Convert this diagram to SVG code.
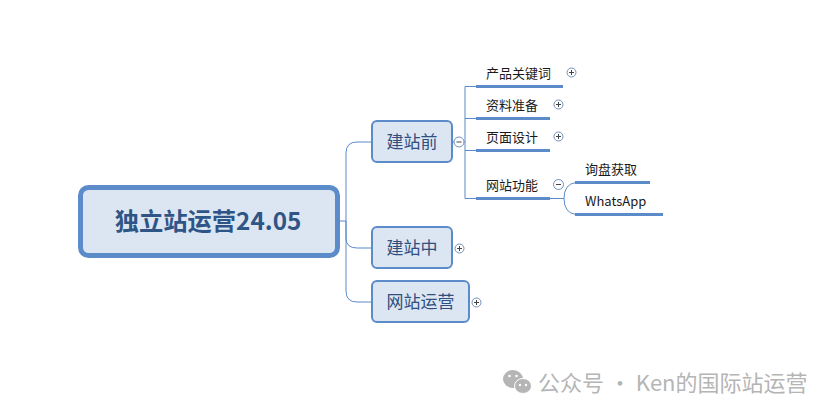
<svg xmlns="http://www.w3.org/2000/svg" width="834" height="416" viewBox="0 0 834 416">
<style>
text{font-family:"Noto Sans CJK SC","Liberation Sans",sans-serif}
.lf{font-size:13px;fill:#1a1a1a}
.sub{font-size:17px;fill:#2f4f7f;text-anchor:middle}
.box{fill:#dce6f2;stroke:#5b8bc9;stroke-width:2}
.c{fill:none;stroke:#5b8bc9;stroke-width:1}
.u{fill:none;stroke:#5b8bc9;stroke-width:3}
.t{fill:#fff;stroke:#6f8fbf;stroke-width:1}
.g{fill:none;stroke:#444;stroke-width:1}
</style>
<rect width="834" height="416" fill="#fff"/>
<g id="connectors">
<path class="c" d="M339 221H346M346 221V153Q346 142 357 142H372M346 221V238Q346 248 357 248H372M346 221V291Q346 302 357 302H372"/>
<path class="c" d="M452 142H465M465 86.500H476M465 118.500H476M465 150.500H476M465 198.500H476M465 86.500V198.500"/>
<path class="c" d="M550 198.500H564M576 182.500Q564 184 564 198.500Q564 213 576 214.500"/>
</g>
<g id="root"><rect x="80.500" y="187.500" width="257" height="68" rx="8" fill="#dce6f2" stroke="#5b8bc9" stroke-width="5"/>
<text x="208" y="230" font-size="24.300" font-weight="700" fill="#2f5587" text-anchor="middle">独立站运营24.05</text></g>
<g id="n1"><rect class="box" x="372" y="121" width="80" height="41" rx="5"/><text class="sub" x="412" y="148">建站前</text></g>
<g id="n1t"><circle class="t" cx="459" cy="142" r="5"/><path class="g" d="M456.500 142H461.500"/></g>
<g id="n2"><rect class="box" x="372" y="227" width="80" height="41" rx="5"/><text class="sub" x="412" y="254">建站中</text></g>
<g id="n2t"><circle class="t" cx="459.500" cy="248.500" r="4.500"/><path class="g" d="M457 248.500H462M459.500 246V251"/></g>
<g id="n3"><rect class="box" x="372" y="281" width="97" height="41" rx="5"/><text class="sub" x="420.500" y="308">网站运营</text></g>
<g id="n3t"><circle class="t" cx="476.500" cy="302.500" r="4.500"/><path class="g" d="M474 302.500H479M476.500 300V305"/></g>
<g id="a1"><path class="u" d="M476 86.500H563"/><text class="lf" x="486" y="78">产品关键词</text><circle class="t" cx="571.500" cy="72.500" r="4.500"/><path class="g" d="M569 72.500H574M571.500 70V75"/></g>
<g id="a2"><path class="u" d="M476 118.500H550"/><text class="lf" x="486" y="110">资料准备</text><circle class="t" cx="558.500" cy="104.500" r="4.500"/><path class="g" d="M556 104.500H561M558.500 102V107"/></g>
<g id="a3"><path class="u" d="M476 150.500H550"/><text class="lf" x="486" y="142">页面设计</text><circle class="t" cx="558.500" cy="136.500" r="4.500"/><path class="g" d="M556 136.500H561M558.500 134V139"/></g>
<g id="a4"><path class="u" d="M476 198.500H550"/><text class="lf" x="486" y="190">网站功能</text><circle class="t" cx="558.500" cy="184.500" r="5"/><path class="g" d="M556 184.500H561"/></g>
<g id="b1"><path class="u" d="M575 182.500H650"/><text class="lf" x="585" y="174">询盘获取</text></g>
<g id="b2"><path class="u" d="M575 214.500H663"/><text class="lf" x="585" y="206" font-family="Liberation Sans">WhatsApp</text></g>
<g id="watermark">
<ellipse cx="513" cy="379" rx="10" ry="9" fill="#b5b5b5"/><ellipse cx="523" cy="386" rx="8.500" ry="7.500" fill="#b5b5b5" stroke="#fff"/>
<circle cx="509.500" cy="376" r="1.300" fill="#fff"/><circle cx="516.500" cy="376" r="1.300" fill="#fff"/><circle cx="520" cy="385" r="1.200" fill="#fff"/><circle cx="526" cy="385" r="1.200" fill="#fff"/>
<text x="538" y="391" font-size="22" fill="#b5b5b5">公众号 · Ken的国际站运营</text>
</g>
</svg>
